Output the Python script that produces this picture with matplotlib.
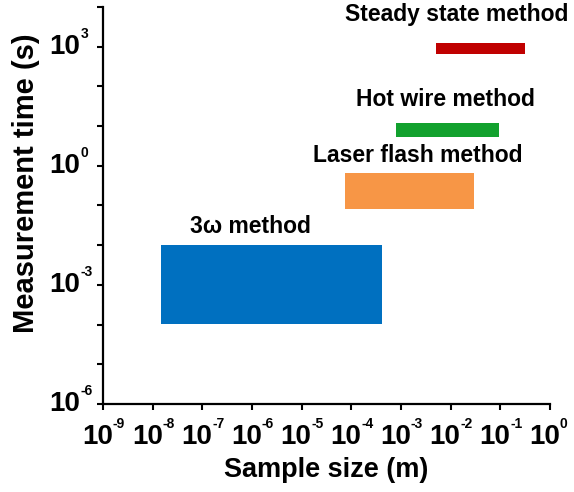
import numpy as np
import matplotlib
matplotlib.use('Agg')
import matplotlib.pyplot as plt
from matplotlib.transforms import offset_copy

plt.rcParams['font.family'] = ['Liberation Sans', 'DejaVu Sans']
plt.rcParams['font.weight'] = 'bold'

# method ranges: sample size (m) and measurement time (s)
methods = ['3\u03c9 method', 'Laser flash method', 'Hot wire method', 'Steady state method']
size_lo = [1.5e-8, 7.5e-5, 8e-4, 5e-3]
size_hi = [4.1e-4, 0.03, 0.093, 0.31]
time_lo = [1.05e-4, 0.08, 5.4, 660]
time_hi = [1e-2, 0.65, 11.7, 1230]
colors = ['#0070C0', '#F79646', '#12A12E', '#C00000']
# label positions (log10 x, log10 y)
lab_x = [-6.04, -2.66, -2.10, -1.88]
lab_y = [-1.54, 0.25, 1.66, 3.80]

x_exp = list(range(-9, 1))
y_exp = list(range(-6, 5))
y_lab_exp = [-6, -3, 0, 3]

fig = plt.figure(figsize=(5.74, 4.92), dpi=100)
ax = fig.add_axes([0.1794, 0.1789, 0.7786, 0.807])

for i in range(len(methods)):
    ax.fill_between([size_lo[i], size_hi[i]], time_lo[i], time_hi[i],
                    color=colors[i], linewidth=0)
    ax.text(10**lab_x[i], 10**lab_y[i], methods[i], ha='center', va='center',
            fontsize=16.5, fontweight='bold')

ax.set_xscale('log')
ax.set_yscale('log')
ax.set_xlim(1e-9, 1)
ax.set_ylim(1e-6, 1e4)

ax.set_xticks([10.0**k for k in x_exp])
ax.set_xticklabels([''] * len(x_exp))
ax.xaxis.set_minor_locator(matplotlib.ticker.NullLocator())
ax.set_yticks([10.0**k for k in y_exp])
ax.set_yticklabels([''] * len(y_exp))
ax.yaxis.set_minor_locator(matplotlib.ticker.NullLocator())
ax.tick_params(direction='out', length=4.3, width=1.5)

# tick labels drawn as "10" plus a small exponent, like the original
xtr = ax.get_xaxis_transform()
for k in x_exp:
    ax.text(10.0**k, 0, '10', ha='right', va='top', fontsize=20, fontweight='bold',
            transform=offset_copy(xtr, fig, x=10, y=-20, units='dots'), clip_on=False)
    ax.text(10.0**k, 0, str(k), ha='left', va='top', fontsize=10, fontweight='bold',
            transform=offset_copy(xtr, fig, x=10, y=-13, units='dots'), clip_on=False)
ytr = ax.get_yaxis_transform()
for k in y_lab_exp:
    ax.text(0, 10.0**k, '10', ha='right', va='center', fontsize=20, fontweight='bold',
            transform=offset_copy(ytr, fig, x=-23, y=0, units='dots'), clip_on=False)
    ax.text(0, 10.0**k, str(k), ha='left', va='bottom', fontsize=10, fontweight='bold',
            transform=offset_copy(ytr, fig, x=-22, y=6, units='dots'), clip_on=False)

for s in ['top', 'right']:
    ax.spines[s].set_visible(False)
for s in ['left', 'bottom']:
    ax.spines[s].set_linewidth(1.6)

ax.set_xlabel('Sample size (m)', fontsize=19.5, fontweight='bold', va='center')
ax.xaxis.set_label_coords(0.499, -0.166)
ax.set_ylabel('Measurement time (s)', fontsize=21, fontweight='bold', va='center')
ax.yaxis.set_label_coords(-0.172, 0.557)

fig.savefig('out.png', dpi=100)
